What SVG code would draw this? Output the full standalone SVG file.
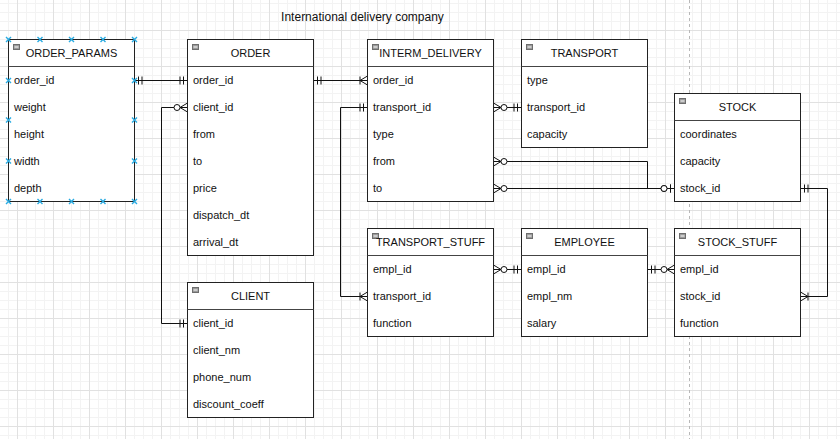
<svg xmlns="http://www.w3.org/2000/svg" width="840" height="439" viewBox="0 0 840 439">
<style>
.box{fill:#fff;stroke:#222;stroke-width:1}
.hdr{stroke:#444;stroke-width:1}
.t{font-family:"Liberation Sans",Arial,sans-serif;font-size:11px;fill:#111}
.tt{font-family:"Liberation Sans",Arial,sans-serif;font-size:11px;fill:#111;text-anchor:middle}
.ic{fill:#9a9a9a;stroke:#6e6e6e;stroke-width:1}
.icm{stroke:#fff;stroke-width:1}
.edge{fill:none;stroke:#111;stroke-width:1}
.mk{fill:none;stroke:#111;stroke-width:1}
.mkc{fill:#fff;stroke:#111;stroke-width:1}
.bx{stroke:#29abe2;stroke-width:1.4;fill:none}
</style>
<defs>
<pattern id="minor" patternUnits="userSpaceOnUse" x="8" y="3" width="9" height="9">
<path d="M0.5,0V9M0,0.5H9" stroke="#f3f3f3" stroke-width="1" fill="none"/>
</pattern>
<pattern id="major" patternUnits="userSpaceOnUse" x="17" y="30" width="36" height="36">
<path d="M0.5,0V36M0,0.5H36" stroke="#e1e1e1" stroke-width="1" fill="none"/>
</pattern>
<marker id="mandOne" markerUnits="userSpaceOnUse" viewBox="-16 -8 18 16" refX="0" refY="0" markerWidth="18" markerHeight="16" orient="auto-start-reverse" overflow="visible">
<path class="mk" d="M-4,-4V4M-7.5,-4V4"/>
</marker>
<marker id="oneMany" markerUnits="userSpaceOnUse" viewBox="-16 -8 18 16" refX="0" refY="0" markerWidth="18" markerHeight="16" orient="auto-start-reverse" overflow="visible">
<path class="mk" d="M0,-4.5L-7.5,0L0,4.5M-7.5,-4V4"/>
</marker>
<marker id="zeroMany" markerUnits="userSpaceOnUse" viewBox="-18 -8 20 16" refX="0" refY="0" markerWidth="20" markerHeight="16" orient="auto-start-reverse" overflow="visible">
<path class="mk" d="M0,-4.5L-7.5,0L0,4.5"/>
<circle class="mkc" cx="-10.5" cy="0" r="3"/>
</marker>
<marker id="zeroOne" markerUnits="userSpaceOnUse" viewBox="-18 -8 20 16" refX="0" refY="0" markerWidth="20" markerHeight="16" orient="auto-start-reverse" overflow="visible">
<path class="mk" d="M-4,-4V4"/>
<circle class="mkc" cx="-10.5" cy="0" r="3"/>
</marker>
</defs>
<rect width="840" height="439" fill="#fff"/>
<rect width="840" height="439" fill="url(#minor)"/>
<rect width="840" height="439" fill="url(#major)"/>
<line x1="689.5" y1="0" x2="689.5" y2="439" stroke="#b8b8b8" stroke-dasharray="3 3"/>
<text x="362.5" y="21" style="font-family:'Liberation Sans',Arial,sans-serif;font-size:12px;fill:#111;text-anchor:middle">International delivery company</text>

<g id="connectors">
<path class="edge" d="M134.5,80.5H187.5" marker-start="url(#mandOne)" marker-end="url(#mandOne)"/>
<path class="edge" d="M187.5,107.5H161.5V323.5H187.5" marker-start="url(#zeroMany)" marker-end="url(#mandOne)"/>
<path class="edge" d="M313.5,80.5H367.5" marker-start="url(#mandOne)" marker-end="url(#oneMany)"/>
<path class="edge" d="M367.5,107.5H340.5V296.5H367.5" marker-start="url(#mandOne)" marker-end="url(#oneMany)"/>
<path class="edge" d="M493.5,107.5H521.5" marker-start="url(#zeroMany)" marker-end="url(#mandOne)"/>
<path class="edge" d="M493.5,161.5H647.5V188.5H674.5" marker-start="url(#zeroMany)" marker-end="url(#zeroOne)"/>
<path class="edge" d="M493.5,188.5H674.5" marker-start="url(#zeroMany)" marker-end="url(#zeroOne)"/>
<path class="edge" d="M800.5,188.5H827.5V296.5H800.5" marker-start="url(#mandOne)" marker-end="url(#oneMany)"/>
<path class="edge" d="M493.5,269.5H521.5" marker-start="url(#zeroMany)" marker-end="url(#mandOne)"/>
<path class="edge" d="M647.5,269.5H674.5" marker-start="url(#mandOne)" marker-end="url(#zeroMany)"/>
</g>

<g id="order_params">
<rect class="box" x="8.5" y="39.5" width="126" height="162"/>
<line class="hdr" x1="8.5" y1="66.5" x2="134.5" y2="66.5"/>
<rect class="ic" x="13.5" y="44.5" width="6" height="5"/><line class="icm" x1="14.5" y1="47" x2="18.5" y2="47"/>
<text class="tt" x="71.5" y="57">ORDER_PARAMS</text>
<text class="t" x="14" y="84">order_id</text>
<text class="t" x="14" y="111">weight</text>
<text class="t" x="14" y="138">height</text>
<text class="t" x="14" y="165">width</text>
<text class="t" x="14" y="192">depth</text>
<path class="bx" d="M6,37l5,5m0,-5l-5,5M37.5,37l5,5m0,-5l-5,5M69,37l5,5m0,-5l-5,5M100.5,37l5,5m0,-5l-5,5M132,37l5,5m0,-5l-5,5M6,199l5,5m0,-5l-5,5M37.5,199l5,5m0,-5l-5,5M69,199l5,5m0,-5l-5,5M100.5,199l5,5m0,-5l-5,5M132,199l5,5m0,-5l-5,5M6,78l5,5m0,-5l-5,5M6,117.5l5,5m0,-5l-5,5M6,158.5l5,5m0,-5l-5,5M132,78l5,5m0,-5l-5,5M132,117.5l5,5m0,-5l-5,5M132,158.5l5,5m0,-5l-5,5"/>
</g>

<g id="order">
<rect class="box" x="187.5" y="39.5" width="126" height="216"/>
<line class="hdr" x1="187.5" y1="66.5" x2="313.5" y2="66.5"/>
<rect class="ic" x="192.5" y="44.5" width="6" height="5"/><line class="icm" x1="193.5" y1="47" x2="197.5" y2="47"/>
<text class="tt" x="250.5" y="57">ORDER</text>
<text class="t" x="193" y="84">order_id</text>
<text class="t" x="193" y="111">client_id</text>
<text class="t" x="193" y="138">from</text>
<text class="t" x="193" y="165">to</text>
<text class="t" x="193" y="192">price</text>
<text class="t" x="193" y="219">dispatch_dt</text>
<text class="t" x="193" y="246">arrival_dt</text>
</g>

<g id="interm_delivery">
<rect class="box" x="367.5" y="39.5" width="126" height="162"/>
<line class="hdr" x1="367.5" y1="66.5" x2="493.5" y2="66.5"/>
<rect class="ic" x="372.5" y="44.5" width="6" height="5"/><line class="icm" x1="373.5" y1="47" x2="377.5" y2="47"/>
<text class="tt" x="430.5" y="57">INTERM_DELIVERY</text>
<text class="t" x="373" y="84">order_id</text>
<text class="t" x="373" y="111">transport_id</text>
<text class="t" x="373" y="138">type</text>
<text class="t" x="373" y="165">from</text>
<text class="t" x="373" y="192">to</text>
</g>

<g id="transport">
<rect class="box" x="521.5" y="39.5" width="126" height="108"/>
<line class="hdr" x1="521.5" y1="66.5" x2="647.5" y2="66.5"/>
<rect class="ic" x="526.5" y="44.5" width="6" height="5"/><line class="icm" x1="527.5" y1="47" x2="531.5" y2="47"/>
<text class="tt" x="584.5" y="57">TRANSPORT</text>
<text class="t" x="527" y="84">type</text>
<text class="t" x="527" y="111">transport_id</text>
<text class="t" x="527" y="138">capacity</text>
</g>

<g id="stock">
<rect class="box" x="674.5" y="93.5" width="126" height="108"/>
<line class="hdr" x1="674.5" y1="120.5" x2="800.5" y2="120.5"/>
<rect class="ic" x="679.5" y="98.5" width="6" height="5"/><line class="icm" x1="680.5" y1="101" x2="684.5" y2="101"/>
<text class="tt" x="737.5" y="111">STOCK</text>
<text class="t" x="680" y="138">coordinates</text>
<text class="t" x="680" y="165">capacity</text>
<text class="t" x="680" y="192">stock_id</text>
</g>

<g id="transport_stuff">
<rect class="box" x="367.5" y="228.5" width="126" height="108"/>
<line class="hdr" x1="367.5" y1="255.5" x2="493.5" y2="255.5"/>
<rect class="ic" x="372.5" y="233.5" width="6" height="5"/><line class="icm" x1="373.5" y1="236" x2="377.5" y2="236"/>
<text class="tt" x="430.5" y="246">TRANSPORT_STUFF</text>
<text class="t" x="373" y="273">empl_id</text>
<text class="t" x="373" y="300">transport_id</text>
<text class="t" x="373" y="327">function</text>
</g>

<g id="employee">
<rect class="box" x="521.5" y="228.5" width="126" height="108"/>
<line class="hdr" x1="521.5" y1="255.5" x2="647.5" y2="255.5"/>
<rect class="ic" x="526.5" y="233.5" width="6" height="5"/><line class="icm" x1="527.5" y1="236" x2="531.5" y2="236"/>
<text class="tt" x="584.5" y="246">EMPLOYEE</text>
<text class="t" x="527" y="273">empl_id</text>
<text class="t" x="527" y="300">empl_nm</text>
<text class="t" x="527" y="327">salary</text>
</g>

<g id="stock_stuff">
<rect class="box" x="674.5" y="228.5" width="126" height="108"/>
<line class="hdr" x1="674.5" y1="255.5" x2="800.5" y2="255.5"/>
<rect class="ic" x="679.5" y="233.5" width="6" height="5"/><line class="icm" x1="680.5" y1="236" x2="684.5" y2="236"/>
<text class="tt" x="737.5" y="246">STOCK_STUFF</text>
<text class="t" x="680" y="273">empl_id</text>
<text class="t" x="680" y="300">stock_id</text>
<text class="t" x="680" y="327">function</text>
</g>

<g id="client">
<rect class="box" x="187.5" y="282.5" width="126" height="135"/>
<line class="hdr" x1="187.5" y1="309.5" x2="313.5" y2="309.5"/>
<rect class="ic" x="192.5" y="287.5" width="6" height="5"/><line class="icm" x1="193.5" y1="290" x2="197.5" y2="290"/>
<text class="tt" x="250.5" y="300">CLIENT</text>
<text class="t" x="193" y="327">client_id</text>
<text class="t" x="193" y="354">client_nm</text>
<text class="t" x="193" y="381">phone_num</text>
<text class="t" x="193" y="408">discount_coeff</text>
</g>
</svg>
